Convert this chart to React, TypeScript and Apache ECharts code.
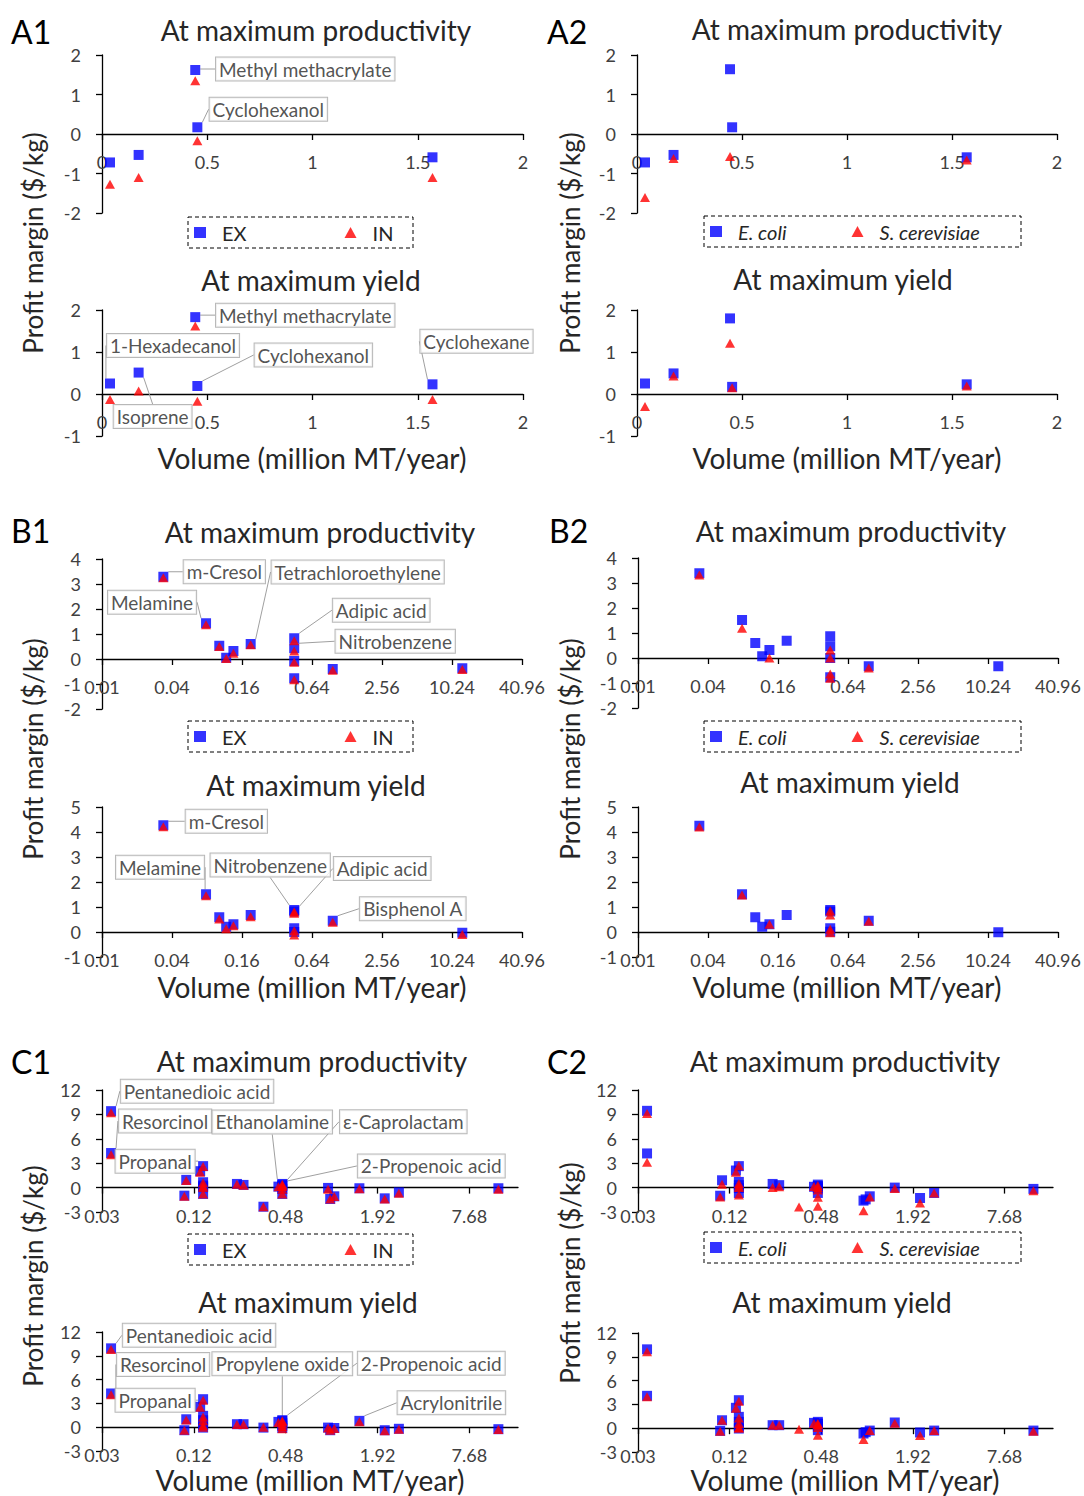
import React, { useEffect, useRef } from "react";
import * as echarts from "echarts";

const FONT = "Lato, 'Open Sans', sans-serif";
const TICK_COLOR = "#404040";
const TEXT_COLOR = "#262626";

// ---------------- Group A ----------------
const A_NAMES = ["1-Hexadecanol", "Isoprene", "Methyl methacrylate", "Cyclohexanol", "Cyclohexane"];
const A_VOLUME = [0.038, 0.174, 0.443, 0.453, 1.57];
const A1_PROD_EX = [-0.72, -0.53, 1.62, 0.17, -0.59];
const A1_PROD_IN = [-1.27, -1.1, 1.35, -0.17, -1.1];
const A1_YIELD_EX = [0.25, 0.51, 1.83, 0.19, 0.23];
const A1_YIELD_IN = [-0.13, 0.07, 1.62, -0.17, -0.13];
const A2_PROD_EC = [-0.72, -0.53, 1.64, 0.17, -0.59];
const A2_PROD_SC = [-1.61, -0.62, -0.57, null, -0.66];
const A2_YIELD_EC = [0.25, 0.49, 1.8, 0.17, 0.23];
const A2_YIELD_SC = [-0.3, 0.43, 1.21, 0.15, 0.19];

// ---------------- Group B ----------------
const B_NAMES = ["m-Cresol", "Melamine", "", "", "", "Tetrachloroethylene", "Adipic acid", "Nitrobenzene", "", "", "Bisphenol A", ""];
const B_VOLUME = [0.0337, 0.0785, 0.102, 0.117, 0.135, 0.19, 0.45, 0.45, 0.45, 0.45, 0.965, 12.56];
const B1_PROD_EX = [3.29, 1.43, 0.53, 0.05, 0.32, 0.6, 0.83, 0.43, -0.08, -0.77, -0.4, -0.37];
const B1_PROD_IN = [3.25, 1.37, 0.5, 0.02, 0.23, 0.57, 0.73, 0.32, -0.13, -0.83, -0.45, -0.42];
const B1_YIELD_EX = [4.27, 1.51, 0.59, 0.21, 0.31, 0.68, 0.82, 0.88, 0.15, 0.0, 0.45, -0.03];
const B1_YIELD_IN = [4.21, 1.45, 0.52, 0.13, 0.25, 0.61, 0.75, 0.81, 0.05, -0.12, 0.39, -0.1];
const B2_PROD_EC = [3.39, 1.52, 0.6, 0.07, 0.32, 0.69, 0.87, 0.47, 0.0, -0.77, -0.33, -0.33];
const B2_PROD_SC = [3.32, 1.19, null, null, 0.0, null, 0.32, -0.64, 0.0, -0.81, -0.4, null];
const B2_YIELD_EC = [4.25, 1.51, 0.59, 0.21, 0.31, 0.68, 0.82, 0.88, 0.15, 0.01, 0.45, -0.01];
const B2_YIELD_SC = [4.2, 1.48, null, null, 0.31, null, 0.68, 0.84, 0.11, -0.03, 0.43, null];

// ---------------- Group C ----------------
const C_NAMES = [
  "Pentanedioic acid", "Resorcinol", "", "", "", "Propanal", "", "", "", "", "", "", "", "",
  "Ethanolamine", "ε-Caprolactam", "2-Propenoic acid", "Propylene oxide", "", "", "", "", "Acrylonitrile", "", "", "",
];
const C_VOLUME = [
  0.0344, 0.0344, 0.107, 0.104, 0.132, 0.138, 0.138, 0.138, 0.138, 0.138, 0.23, 0.254, 0.343, 0.43,
  0.456, 0.456, 0.456, 0.456, 0.456, 0.91, 0.94, 1.0, 1.46, 2.14, 2.65, 11.9,
];
const C1_PROD_EX = [9.4, 4.25, 0.95, -0.99, 2.02, 2.64, 0.66, 0.25, 0.04, -0.78, 0.45, 0.33, -2.35, 0.12, 0.45, 0.35, 0.2, -0.16, -0.78, -0.04, -1.4, -1.07, -0.08, -1.32, -0.58, -0.08];
const C1_PROD_IN = [9.2, 4.05, 0.88, -1.05, 1.9, 2.6, 0.6, 0.2, 0.0, -0.8, 0.4, 0.3, -2.35, 0.1, 0.4, 0.3, 0.15, -0.2, -0.8, -0.2, -1.4, -1.1, -0.15, -1.4, -0.7, -0.2];
const C1_YIELD_EX = [9.94, 4.25, 1.0, -0.38, 2.57, 3.53, 1.43, 0.88, 0.25, -0.05, 0.38, 0.38, -0.05, 0.67, 0.5, 0.2, 0.88, 0.8, -0.1, -0.05, -0.38, -0.1, 0.8, -0.38, -0.2, -0.25];
const C1_YIELD_IN = [9.8, 4.1, 0.9, -0.4, 2.5, 3.4, 1.3, 0.8, 0.2, 0.0, 0.35, 0.35, 0.0, 0.6, 0.4, 0.1, 0.8, 0.7, -0.2, -0.1, -0.4, -0.15, 0.7, -0.45, -0.25, -0.3];
const C2_PROD_EC = [9.44, 4.2, 0.9, -1.0, 2.1, 2.64, 0.7, 0.3, -0.05, -0.66, 0.45, 0.3, null, 0.1, 0.37, 0.2, 0.1, -0.1, -0.66, -1.6, -1.45, -1.07, 0.0, -1.28, -0.66, -0.16];
const C2_PROD_SC = [9.1, 3.13, 0.4, -1.15, 1.9, 2.7, 0.5, 0.2, 0.0, -0.9, 0.0, 0.1, -2.39, 0.15, 0.25, 0.0, -0.3, -1.2, -2.3, -2.85, null, -1.15, -0.1, -1.9, -0.66, -0.4];
const C2_YIELD_EC = [9.94, 4.08, 1.0, -0.34, 2.57, 3.53, 1.43, 0.8, 0.25, -0.04, 0.38, 0.38, null, 0.67, 0.5, 0.2, 0.8, 0.6, -0.25, -0.67, -0.5, -0.3, 0.72, -0.54, -0.3, -0.3];
const C2_YIELD_SC = [9.65, 3.95, 1.0, -0.4, 2.5, 3.4, 1.3, 0.6, 0.1, 0.0, 0.38, 0.38, -0.13, 0.6, 0.4, 0.1, 0.6, 0.5, -0.88, -1.43, null, -0.3, 0.62, -0.92, -0.3, -0.4];

// ---------------- Axis tick labels ----------------
const B_X_TICKS = ["0.01", "0.04", "0.16", "0.64", "2.56", "10.24", "40.96"];
const C_X_TICKS = ["0.03", "0.12", "0.48", "1.92", "7.68"];
const C_X_MAX = 16;

const SET1 = ["EX", "IN"];
const SET2 = ["E. coli", "S. cerevisiae"];

const LOG4 = Math.log(4);
const xA = (v: number) => v;
const xB = (v: number) => Math.log(v / parseFloat(B_X_TICKS[0])) / LOG4;
const xC = (v: number) => Math.log(v / parseFloat(C_X_TICKS[0])) / LOG4;

type Kind = "A" | "B" | "C";
interface PanelDef {
  grid: { left: number; top: number; width: number; height: number };
  kind: Kind;
  y: [number, number, number];
  names: string[];
  vol: number[];
  s1: (number | null)[];
  s2: (number | null)[];
  set: string[];
  labels: Record<string, [number, number]>;
}

const PANELS: PanelDef[] = [
  {
    grid: { left: 102, top: 55, width: 421, height: 158 }, kind: "A", y: [-2, 2, 1],
    names: A_NAMES, vol: A_VOLUME, s1: A1_PROD_EX, s2: A1_PROD_IN, set: SET1,
    labels: { "Methyl methacrylate": [110, -1], Cyclohexanol: [71, -18] },
  },
  {
    grid: { left: 102, top: 310, width: 421, height: 126 }, kind: "A", y: [-1, 2, 1],
    names: A_NAMES, vol: A_VOLUME, s1: A1_YIELD_EX, s2: A1_YIELD_IN, set: SET1,
    labels: {
      "Methyl methacrylate": [110, -2], "1-Hexadecanol": [63, -38], Isoprene: [14, 44],
      Cyclohexanol: [116, -31], Cyclohexane: [44, -43],
    },
  },
  {
    grid: { left: 637, top: 55, width: 420, height: 158 }, kind: "A", y: [-2, 2, 1],
    names: A_NAMES, vol: A_VOLUME, s1: A2_PROD_EC, s2: A2_PROD_SC, set: SET2, labels: {},
  },
  {
    grid: { left: 637, top: 310, width: 420, height: 126 }, kind: "A", y: [-1, 2, 1],
    names: A_NAMES, vol: A_VOLUME, s1: A2_YIELD_EC, s2: A2_YIELD_SC, set: SET2, labels: {},
  },
  {
    grid: { left: 102, top: 559, width: 420, height: 150 }, kind: "B", y: [-2, 4, 1],
    names: B_NAMES, vol: B_VOLUME, s1: B1_PROD_EX, s2: B1_PROD_IN, set: SET1,
    labels: {
      "m-Cresol": [61, -5], Melamine: [-54, -21], Tetrachloroethylene: [107, -72],
      "Adipic acid": [87, -28], Nitrobenzene: [101, -7],
    },
  },
  {
    grid: { left: 102, top: 807, width: 420, height: 150 }, kind: "B", y: [-1, 5, 1],
    names: B_NAMES, vol: B_VOLUME, s1: B1_YIELD_EX, s2: B1_YIELD_IN, set: SET1,
    labels: {
      "m-Cresol": [63, -4], Melamine: [-46, -27], Nitrobenzene: [-24, -45],
      "Adipic acid": [88, -43], "Bisphenol A": [80, -12],
    },
  },
  {
    grid: { left: 638, top: 558, width: 420, height: 150 }, kind: "B", y: [-2, 4, 1],
    names: B_NAMES, vol: B_VOLUME, s1: B2_PROD_EC, s2: B2_PROD_SC, set: SET2, labels: {},
  },
  {
    grid: { left: 638, top: 807, width: 420, height: 150 }, kind: "B", y: [-1, 5, 1],
    names: B_NAMES, vol: B_VOLUME, s1: B2_YIELD_EC, s2: B2_YIELD_SC, set: SET2, labels: {},
  },
  {
    grid: { left: 102, top: 1090, width: 416, height: 122 }, kind: "C", y: [-3, 12, 3],
    names: C_NAMES, vol: C_VOLUME, s1: C1_PROD_EX, s2: C1_PROD_IN, set: SET1,
    labels: {
      "Pentanedioic acid": [86, -20], Resorcinol: [54, -32], Propanal: [-48, -5],
      Ethanolamine: [-10, -62], "ε-Caprolactam": [121, -63], "2-Propenoic acid": [149, -20],
    },
  },
  {
    grid: { left: 102, top: 1332, width: 416, height: 119 }, kind: "C", y: [-3, 12, 3],
    names: C_NAMES, vol: C_VOLUME, s1: C1_YIELD_EX, s2: C1_YIELD_IN, set: SET1,
    labels: {
      "Pentanedioic acid": [88, -13], Resorcinol: [52, -29], Propanal: [-48, 1],
      "Propylene oxide": [0, -57], "2-Propenoic acid": [149, -57], Acrylonitrile: [92, -18],
    },
  },
  {
    grid: { left: 638, top: 1090, width: 415, height: 122 }, kind: "C", y: [-3, 12, 3],
    names: C_NAMES, vol: C_VOLUME, s1: C2_PROD_EC, s2: C2_PROD_SC, set: SET2, labels: {},
  },
  {
    grid: { left: 638, top: 1333, width: 415, height: 119 }, kind: "C", y: [-3, 12, 3],
    names: C_NAMES, vol: C_VOLUME, s1: C2_YIELD_EC, s2: C2_YIELD_SC, set: SET2, labels: {},
  },
];

const TITLES: [string, number, number][] = [
  ["At maximum productivity", 316, 30], ["At maximum yield", 311, 280],
  ["At maximum productivity", 847, 29], ["At maximum yield", 843, 279],
  ["At maximum productivity", 320, 532], ["At maximum yield", 316, 785],
  ["At maximum productivity", 851, 531], ["At maximum yield", 850, 782],
  ["At maximum productivity", 312, 1061], ["At maximum yield", 308, 1302],
  ["At maximum productivity", 845, 1061], ["At maximum yield", 842, 1302],
];
const LETTERS: [string, number, number][] = [
  ["A1", 11, 31], ["A2", 547, 31], ["B1", 11, 530], ["B2", 549, 530], ["C1", 11, 1061], ["C2", 547, 1061],
];
const X_NAMES: [number, number][] = [[312, 458], [847, 458], [312, 987], [847, 987], [310, 1480], [845, 1480]];
const Y_NAMES: [number, number][] = [[33, 243], [570, 243], [33, 749], [570, 749], [33, 1276], [570, 1273]];
// legends: [x of box, y of box, width, height, set, itemGap]
const LEGENDS: [number, number, number, number, string[], number][] = [
  [188, 217, 225, 31, SET1, 98], [704, 216, 317, 31, SET2, 65],
  [188, 721, 225, 31, SET1, 98], [704, 721, 317, 31, SET2, 65],
  [188, 1234, 225, 31, SET1, 98], [704, 1232, 317, 31, SET2, 65],
];

function xAxisFor(p: PanelDef, gi: number): any {
  const kind = p.kind;
  const line = { color: "#000", width: 1.3 };
  // place the x axis (line, ticks and labels) on y = 0
  const zeroOffset = -p.grid.height * (0 - p.y[0]) / (p.y[1] - p.y[0]);
  const common: any = {
    gridIndex: gi,
    type: "value",
    position: "bottom",
    offset: zeroOffset,
    axisLine: { show: true, onZero: false, lineStyle: line },
    axisTick: { show: true, inside: false, length: 6, lineStyle: line },
    splitLine: { show: false },
    axisLabel: { fontSize: 18, color: TICK_COLOR, fontFamily: FONT, margin: 19 },
  };
  if (kind === "A") return { ...common, min: 0, max: 2, interval: 0.5 };
  if (kind === "B")
    return {
      ...common, min: 0, max: B_X_TICKS.length - 1, interval: 1,
      axisLabel: { ...common.axisLabel, formatter: (v: number) => B_X_TICKS[Math.round(v)] ?? "" },
    };
  const idx = C_X_TICKS.map((_, i) => i);
  return {
    ...common, min: 0, max: xC(C_X_MAX), interval: 1,
    axisTick: { ...common.axisTick, customValues: idx },
    axisLabel: {
      ...common.axisLabel, customValues: idx,
      formatter: (v: number) => C_X_TICKS[Math.round(v)] ?? "",
    },
  };
}

function yAxisFor(p: PanelDef, gi: number): any {
  const line = { color: "#000", width: 1.3 };
  return {
    gridIndex: gi,
    type: "value",
    min: p.y[0], max: p.y[1], interval: p.y[2],
    axisLine: { show: true, onZero: false, lineStyle: line },
    axisTick: { show: true, inside: false, length: 6, lineStyle: line },
    splitLine: { show: false },
    axisLabel: { fontSize: 18, color: TICK_COLOR, fontFamily: FONT, margin: 21 },
  };
}

function buildOption(): any {
  const grid: any[] = [];
  const xAxis: any[] = [];
  const yAxis: any[] = [];
  const series: any[] = [];

  PANELS.forEach((p, gi) => {
    grid.push({ ...p.grid, containLabel: false });
    xAxis.push(xAxisFor(p, gi));
    yAxis.push(yAxisFor(p, gi));
    const xf = p.kind === "A" ? xA : p.kind === "B" ? xB : xC;

    const d1: any[] = [];
    const offs: ([number, number] | null)[] = [];
    p.vol.forEach((v, i) => {
      const y = p.s1[i];
      if (y == null) return;
      const nm = p.names[i];
      const off = nm && p.labels[nm] ? p.labels[nm] : null;
      const item: any = { value: [xf(v), y] };
      if (off) {
        item.label = {
          show: true, formatter: nm, position: "inside",
          fontSize: 19, fontFamily: FONT, color: TEXT_COLOR,
          backgroundColor: "#fff", borderColor: "#a6a6a6", borderWidth: 1,
          padding: [2, 3, 1, 3], lineHeight: 20,
        };
      }
      d1.push(item);
      offs.push(off);
    });
    const d2: any[] = [];
    p.vol.forEach((v, i) => {
      const y = p.s2[i];
      if (y == null) return;
      d2.push([xf(v), y]);
    });

    series.push({
      type: "scatter", name: p.set[0], xAxisIndex: gi, yAxisIndex: gi,
      symbol: "rect", symbolSize: 10, itemStyle: { color: "#0000ff" },
      data: d1, silent: true, emphasis: { disabled: true },
      label: { show: false },
      labelLine: { show: true, lineStyle: { color: "#a0a0a0", width: 1 } },
      labelLayout: (params: any) => {
        const o = offs[params.dataIndex];
        return o ? { dx: o[0], dy: o[1], hideOverlap: false } : {};
      },
    });
    series.push({
      type: "scatter", name: p.set[1], xAxisIndex: gi, yAxisIndex: gi,
      symbol: "triangle", symbolSize: [10, 9], itemStyle: { color: "#ff0000" },
      data: d2, silent: true, emphasis: { disabled: true },
    });
  });

  const legend = LEGENDS.map(([bx, by, , bh, set, gap]) => ({
    left: bx + 6, top: by + bh / 2 - 12, orient: "horizontal", padding: 0,
    itemGap: gap, itemWidth: 12, itemHeight: 11, selectedMode: false,
    data: [{ name: set[0], icon: "rect" }, { name: set[1], icon: "triangle" }],
    textStyle: {
      fontSize: 20, fontFamily: FONT, color: TEXT_COLOR, lineHeight: 24,
      fontStyle: set === SET2 ? "italic" : "normal", padding: [0, 0, 0, 11],
    },
  }));

  const graphic: any[] = [];
  LEGENDS.forEach(([bx, by, bw, bh]) => {
    graphic.push({
      type: "rect", shape: { x: bx, y: by, width: bw, height: bh },
      style: { fill: "none", stroke: "#000", lineWidth: 1, lineDash: [4, 3] }, silent: true,
    });
  });
  TITLES.forEach(([t, x, y]) => {
    graphic.push({
      type: "text", x, y, silent: true,
      style: { text: t, align: "center", verticalAlign: "middle", fontSize: 28, fontFamily: FONT, fill: TEXT_COLOR },
    });
  });
  LETTERS.forEach(([t, x, y]) => {
    graphic.push({
      type: "text", x, y, silent: true,
      style: { text: t, align: "left", verticalAlign: "middle", fontSize: 32, fontFamily: FONT, fill: "#000" },
    });
  });
  X_NAMES.forEach(([x, y]) => {
    graphic.push({
      type: "text", x, y, silent: true,
      style: { text: "Volume (million MT/year)", align: "center", verticalAlign: "middle", fontSize: 28, fontFamily: FONT, fill: TEXT_COLOR },
    });
  });
  Y_NAMES.forEach(([x, y]) => {
    graphic.push({
      type: "text", x, y, rotation: Math.PI / 2, silent: true,
      style: { text: "Profit margin ($/kg)", align: "center", verticalAlign: "middle", fontSize: 26, fontFamily: FONT, fill: TEXT_COLOR },
    });
  });

  return {
    animation: false,
    backgroundColor: "#fff",
    textStyle: { fontFamily: FONT },
    grid, xAxis, yAxis, series, legend, graphic,
  };
}

export default function App() {
  const ref = useRef<HTMLDivElement>(null);
  useEffect(() => {
    if (!ref.current) return;
    const chart = echarts.init(ref.current, null, { renderer: "svg" });
    chart.setOption(buildOption());
    return () => chart.dispose();
  }, []);
  return (
    <div
      ref={ref}
      style={{ position: "absolute", left: 0, top: 0, width: 1084, height: 1496, background: "#fff" }}
    />
  );
}
